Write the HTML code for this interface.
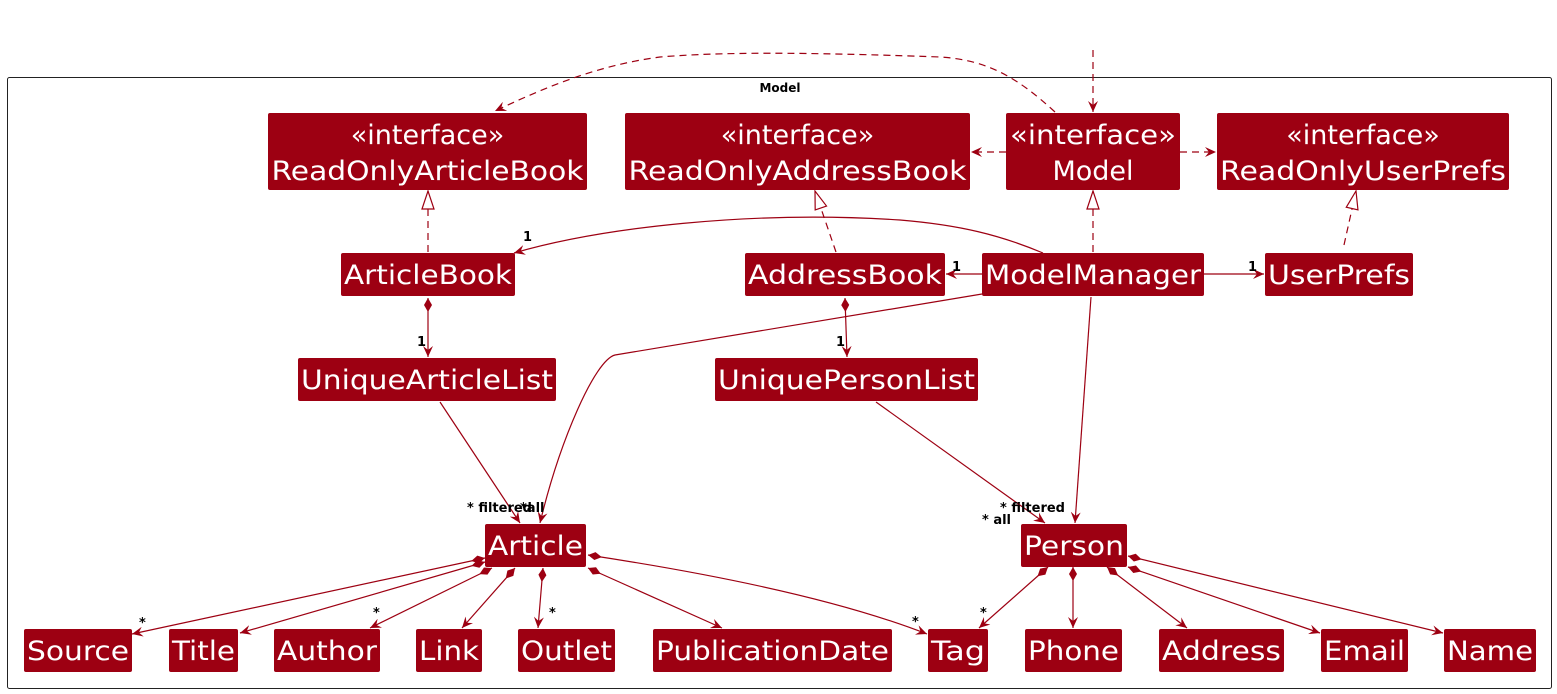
<!DOCTYPE html>
<html><head><meta charset="utf-8"><style>
html,body{margin:0;padding:0;background:#fff;}
svg{display:block;}
.n{fill:#9D0012;}
.t{fill:#fff;font-family:"DejaVu Sans","Liberation Sans",sans-serif;font-size:27px;text-anchor:middle;}
.e{stroke:#9D0012;stroke-width:1.2;fill:none;}
.d{stroke-dasharray:7,5;}
.l{font-family:"DejaVu Sans","Liberation Sans",sans-serif;font-size:13px;fill:#000;font-weight:600;}
</style></head><body>
<svg width="1557" height="694" viewBox="0 0 1557 694" xmlns="http://www.w3.org/2000/svg">
<defs>
<marker id="a" viewBox="0 0 12 10" refX="11" refY="5" markerWidth="12" markerHeight="10" markerUnits="userSpaceOnUse" orient="auto">
<path d="M0,0 L11,5 L0,10 L4,5 Z" fill="#9D0012"/></marker>
<marker id="tri" viewBox="0 0 20 14" refX="19" refY="7" markerWidth="20" markerHeight="14" markerUnits="userSpaceOnUse" orient="auto">
<path d="M1,1 L19,7 L1,13 Z" fill="#fff" stroke="#9D0012" stroke-width="1.2"/></marker>
<marker id="dia" viewBox="0 0 16 10" refX="1" refY="5" markerWidth="16" markerHeight="10" markerUnits="userSpaceOnUse" orient="auto">
<path d="M1,5 L8,1 L15,5 L8,9 Z" fill="#9D0012"/></marker>
</defs>
<rect x="7.5" y="77.5" width="1544" height="611" rx="2" fill="none" stroke="#222" stroke-width="1"/>
<text x="780" y="92" class="l" text-anchor="middle" style="font-size:12px">Model</text>

<rect class="n" x="268" y="113" width="319" height="77" rx="2"/>
<text class="t" x="427.5" y="144">«interface»</text><text class="t" x="427.5" y="180" textLength="312" lengthAdjust="spacingAndGlyphs">ReadOnlyArticleBook</text>
<rect class="n" x="625" y="113" width="345" height="77" rx="2"/>
<text class="t" x="797.5" y="144">«interface»</text><text class="t" x="797.5" y="180" textLength="338" lengthAdjust="spacingAndGlyphs">ReadOnlyAddressBook</text>
<rect class="n" x="1006" y="113" width="174" height="77" rx="2"/>
<text class="t" x="1093" y="144" textLength="166" lengthAdjust="spacingAndGlyphs">«interface»</text><text class="t" x="1093" y="180">Model</text>
<rect class="n" x="1217" y="113" width="292" height="77" rx="2"/>
<text class="t" x="1363" y="144">«interface»</text><text class="t" x="1363" y="180" textLength="286" lengthAdjust="spacingAndGlyphs">ReadOnlyUserPrefs</text>

<rect class="n" x="341" y="253" width="174" height="43" rx="2"/><text class="t" x="428" y="284" textLength="168" lengthAdjust="spacingAndGlyphs">ArticleBook</text>
<rect class="n" x="745" y="253" width="200" height="43" rx="2"/><text class="t" x="845" y="284" textLength="194" lengthAdjust="spacingAndGlyphs">AddressBook</text>
<rect class="n" x="982" y="253" width="222" height="43" rx="2"/><text class="t" x="1093" y="284" textLength="216" lengthAdjust="spacingAndGlyphs">ModelManager</text>
<rect class="n" x="1265" y="253" width="148" height="43" rx="2"/><text class="t" x="1339" y="284" textLength="142" lengthAdjust="spacingAndGlyphs">UserPrefs</text>

<rect class="n" x="298" y="358" width="258" height="43" rx="2"/><text class="t" x="427" y="389" textLength="252" lengthAdjust="spacingAndGlyphs">UniqueArticleList</text>
<rect class="n" x="715" y="358" width="263" height="43" rx="2"/><text class="t" x="846.5" y="389" textLength="257" lengthAdjust="spacingAndGlyphs">UniquePersonList</text>

<rect class="n" x="485" y="524" width="101" height="43" rx="2"/><text class="t" x="535.5" y="555" textLength="95" lengthAdjust="spacingAndGlyphs">Article</text>
<rect class="n" x="1021" y="524" width="106" height="43" rx="2"/><text class="t" x="1074" y="555" textLength="100" lengthAdjust="spacingAndGlyphs">Person</text>

<rect class="n" x="24" y="629" width="108" height="43" rx="2"/><text class="t" x="78" y="660" textLength="102" lengthAdjust="spacingAndGlyphs">Source</text>
<rect class="n" x="169" y="629" width="69" height="43" rx="2"/><text class="t" x="203.5" y="660" textLength="63" lengthAdjust="spacingAndGlyphs">Title</text>
<rect class="n" x="274" y="629" width="106" height="43" rx="2"/><text class="t" x="327" y="660" textLength="100" lengthAdjust="spacingAndGlyphs">Author</text>
<rect class="n" x="416" y="629" width="66" height="43" rx="2"/><text class="t" x="449" y="660" textLength="60" lengthAdjust="spacingAndGlyphs">Link</text>
<rect class="n" x="518" y="629" width="97" height="43" rx="2"/><text class="t" x="566.5" y="660" textLength="91" lengthAdjust="spacingAndGlyphs">Outlet</text>
<rect class="n" x="653" y="629" width="239" height="43" rx="2"/><text class="t" x="772.5" y="660" textLength="233" lengthAdjust="spacingAndGlyphs">PublicationDate</text>
<rect class="n" x="928" y="629" width="60" height="43" rx="2"/><text class="t" x="958" y="660" textLength="54" lengthAdjust="spacingAndGlyphs">Tag</text>
<rect class="n" x="1025" y="629" width="97" height="43" rx="2"/><text class="t" x="1073.5" y="660" textLength="91" lengthAdjust="spacingAndGlyphs">Phone</text>
<rect class="n" x="1159" y="629" width="125" height="43" rx="2"/><text class="t" x="1221.5" y="660" textLength="119" lengthAdjust="spacingAndGlyphs">Address</text>
<rect class="n" x="1321" y="629" width="87" height="43" rx="2"/><text class="t" x="1364.5" y="660" textLength="81" lengthAdjust="spacingAndGlyphs">Email</text>
<rect class="n" x="1444" y="629" width="92" height="43" rx="2"/><text class="t" x="1490" y="660" textLength="86" lengthAdjust="spacingAndGlyphs">Name</text>

<path class="e d" d="M1093,50 L1093,112" marker-end="url(#a)"/>
<path class="e d" d="M1055,112 C1020,80 990,60 940,57 C800,52 720,52 660,57 C600,65 550,85 495,111" marker-end="url(#a)"/>
<path class="e d" d="M1006,152 L971,152" marker-end="url(#a)"/>
<path class="e d" d="M1180,152 L1216,152" marker-end="url(#a)"/>
<path class="e d" d="M428,252 L428,191" marker-end="url(#tri)"/>
<path class="e d" d="M836,252 L815,191" marker-end="url(#tri)"/>
<path class="e d" d="M1093,252 L1093,191" marker-end="url(#tri)"/>
<path class="e d" d="M1344,245 L1356,191" marker-end="url(#tri)"/>
<path class="e" d="M1043,253 C1000,235 960,225 900,220 C750,210 600,228 514,253" marker-end="url(#a)"/>
<path class="e" d="M982,274 L946,274" marker-end="url(#a)"/>
<path class="e" d="M1204,274 L1264,274" marker-end="url(#a)"/>
<path class="e" d="M428,298 L428,357" marker-start="url(#dia)" marker-end="url(#a)"/>
<path class="e" d="M845,298 L847,357" marker-start="url(#dia)" marker-end="url(#a)"/>
<path class="e" d="M982,294 L615,355 C595,360 560,440 540,523" marker-end="url(#a)"/>
<path class="e" d="M440,402 L520,523" marker-end="url(#a)"/>
<path class="e" d="M876,402 L1045,523" marker-end="url(#a)"/>
<path class="e" d="M1091,297 L1075,523" marker-end="url(#a)"/>
<path class="e" d="M485,558 L132,634" marker-start="url(#dia)" marker-end="url(#a)"/>
<path class="e" d="M485,562 L240,633" marker-start="url(#dia)" marker-end="url(#a)"/>
<path class="e" d="M492,568 L370,628" marker-start="url(#dia)" marker-end="url(#a)"/>
<path class="e" d="M515,568 L462,628" marker-start="url(#dia)" marker-end="url(#a)"/>
<path class="e" d="M543,568 L538,628" marker-start="url(#dia)" marker-end="url(#a)"/>
<path class="e" d="M588,568 L722,628" marker-start="url(#dia)" marker-end="url(#a)"/>
<path class="e" d="M588,555 C720,575 840,600 927,634" marker-start="url(#dia)" marker-end="url(#a)"/>
<path class="e" d="M1048,567 L979,628" marker-start="url(#dia)" marker-end="url(#a)"/>
<path class="e" d="M1073,567 L1073,628" marker-start="url(#dia)" marker-end="url(#a)"/>
<path class="e" d="M1107,567 L1187,628" marker-start="url(#dia)" marker-end="url(#a)"/>
<path class="e" d="M1128,567 L1320,633" marker-start="url(#dia)" marker-end="url(#a)"/>
<path class="e" d="M1128,556 L1443,633" marker-start="url(#dia)" marker-end="url(#a)"/>

<text class="l" x="523" y="241">1</text>
<text class="l" x="952" y="271">1</text>
<text class="l" x="1248" y="271">1</text>
<text class="l" x="417" y="346">1</text>
<text class="l" x="836" y="346">1</text>
<text class="l" x="467" y="512">* filtered</text>
<text class="l" x="520" y="512">*all</text>
<text class="l" x="1000" y="512">* filtered</text>
<text class="l" x="982" y="524">* all</text>
<text class="l" x="139" y="627">*</text>
<text class="l" x="373" y="617">*</text>
<text class="l" x="549" y="617">*</text>
<text class="l" x="912" y="626">*</text>
<text class="l" x="980" y="617">*</text>
</svg>
</body></html>
